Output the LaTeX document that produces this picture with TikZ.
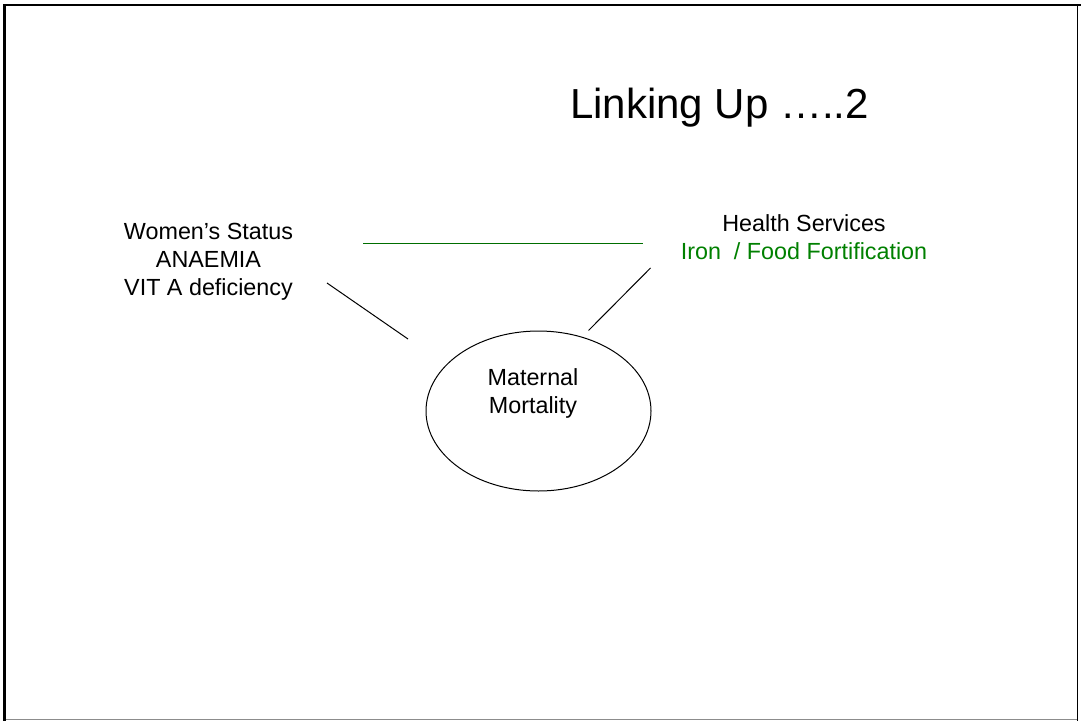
\documentclass[tikz,border=0pt]{standalone}
\usepackage{fontspec}
\setmainfont{Liberation Sans}
\usetikzlibrary{shapes.geometric}
\definecolor{fortgreen}{RGB}{0,128,0}
\definecolor{linegreen}{RGB}{0,110,0}

\begin{document}
\begin{tikzpicture}[x=0.75pt,y=-0.75pt,
		txt/.style={align=center, inner sep=0pt, font=\fontsize{17.5}{21}\selectfont},
		link/.style={line width=0.75pt}]
			\useasboundingbox (0,0) rectangle (1081,721);
			% frame
			\draw [line width=2.25pt] (4.5,4) -- (4.5,721);
			\draw [line width=1.5pt] (3,5) -- (1081,5);
			\draw [line width=0.75pt] (1077.5,5) -- (1077.5,721);
			\draw [line width=0.75pt, black!45] (6,719.5) -- (1077,719.5);
			% texts
			\node [anchor=base west, inner sep=0pt, font=\fontsize{31.5}{36}\selectfont] (title) at (570,118) {Linking Up …..2};
			\node [txt] (women) at (208.5,261.5) {Women’s Status\\ANAEMIA\\VIT A deficiency};
			\node [txt] (health) at (804,237.5) {Health Services\\\textcolor{fortgreen}{Iron\ \ / Food Fortification}};
			\node [ellipse, draw, line width=0.75pt, minimum width=168.75pt, minimum height=120pt, inner sep=0pt] (mort) at (538.5,411) {};
			\node [txt] (morttext) at (533,393) {Maternal\\Mortality};
			% links
			\coordinate (wa) at (327,283);
			\coordinate (wb) at (408,339);
			\coordinate (ha) at (650.5,268);
			\coordinate (hb) at (588.5,330.5);
			\coordinate (ga) at (363,243);
			\coordinate (gb) at (643,243);
			\draw [link] (wa) -- (wb);
			\draw [link] (ha) -- (hb);
			\draw [link, linegreen] (ga) -- (gb);
		\end{tikzpicture}
\end{document}
